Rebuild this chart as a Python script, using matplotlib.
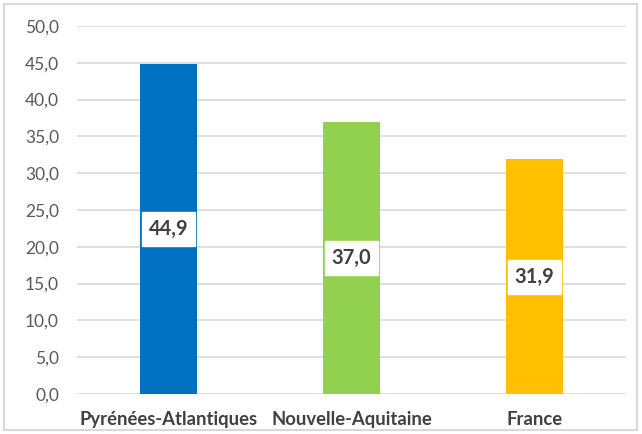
import matplotlib
matplotlib.use('Agg')

import matplotlib.pyplot as plt
from matplotlib.patches import Rectangle

categories = ['Pyrénées-Atlantiques', 'Nouvelle-Aquitaine', 'France']
values = [44.9, 37.0, 31.9]
colors = ['#0070C0', '#92D050', '#FFC000']
yticks = [0, 5, 10, 15, 20, 25, 30, 35, 40, 45, 50]


def fr(v):
    return ('%.1f' % v).replace('.', ',')


plt.rcParams['font.family'] = ['Lato', 'DejaVu Sans']

fig = plt.figure(figsize=(6.42, 4.34), dpi=100)
ax = fig.add_axes([77 / 642, 1 - 394 / 434, 549 / 642, (394 - 26) / 434])

x = list(range(len(categories)))
ax.bar(x, values, width=0.31, color=colors, zorder=2)

ax.set_xlim(-0.5, len(categories) - 0.5)
ax.set_ylim(0, 50)
ax.set_yticks(yticks)
ax.set_yticklabels([fr(v) for v in yticks], color='#595959', fontsize=12.5)
ax.set_xticks(x)
ax.set_xticklabels(categories, color='#404040', fontsize=13.3, fontweight='bold')
ax.tick_params(length=0, axis='y', pad=13)
ax.tick_params(length=0, axis='x', pad=12)
ax.yaxis.grid(True, color='#D9D9D9', linewidth=1.2, zorder=0)
for s in ax.spines.values():
    s.set_visible(False)

for xi, v, c in zip(x, values, colors):
    ax.text(xi, v / 2, fr(v), ha='center', va='center', fontsize=14.5,
            fontweight='bold', color='#404040', zorder=4,
            bbox=dict(boxstyle='square,pad=0.35', facecolor='white', edgecolor='white'))

fig.patches.append(Rectangle((4 / 642, 4 / 434), 633 / 642, 426 / 434,
                             transform=fig.transFigure, fill=False,
                             edgecolor='#D9D9D9', linewidth=1.5))

fig.savefig('out.png', dpi=100)
